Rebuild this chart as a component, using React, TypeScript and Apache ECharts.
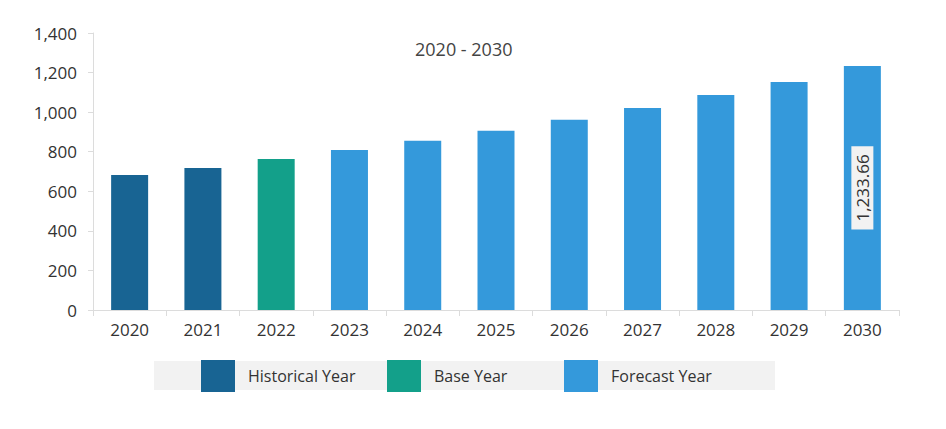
import React, { useEffect, useRef } from "react";
import * as echarts from "echarts";

const years = ["2020", "2021", "2022", "2023", "2024", "2025", "2026", "2027", "2028", "2029", "2030"];
const historical = [682, 718, null, null, null, null, null, null, null, null, null];
const base = [null, null, 763, null, null, null, null, null, null, null, null];
const forecast = [null, null, null, 809, 856, 906, 962, 1021, 1087, 1152, 1233.66];
const yTicks = [0, 200, 400, 600, 800, 1000, 1200, 1400];
const legendNames = ["Historical Year", "Base Year", "Forecast Year"];
const titleText = "2020 - 2030";

const COLORS = ["#186493", "#13a08a", "#3499db"];
const FONT = "'Open Sans', sans-serif";

export default function App() {
  const ref = useRef<HTMLDivElement>(null);
  useEffect(() => {
    document.body.style.margin = "0";
    if (!ref.current) return;
    const chart = echarts.init(ref.current, null, { renderer: "svg" });
    const fmt = (v: number) => v.toLocaleString("en-US");
    const lastIdx = forecast.length - 1;
    const forecastData = forecast.map((v, i) =>
      i === lastIdx
        ? {
            value: v,
            label: {
              show: true,
              position: "inside",
              rotate: 90,
              formatter: (p: any) => p.value.toLocaleString("en-US", { minimumFractionDigits: 2 }),
              color: "#333",
              fontSize: 17,
              fontFamily: FONT,
              backgroundColor: "#f2f2f2",
              padding: [3, 8, 2, 8],
            },
          }
        : v
    );
    const legendLefts = [201, 387, 564];
    chart.setOption({
      animation: false,
      textStyle: { fontFamily: FONT },
      title: {
        text: titleText,
        left: 410,
        top: 35,
        textStyle: { fontSize: 18, fontWeight: "normal", color: "#444", fontFamily: FONT },
      },
      graphic: [
        {
          type: "rect",
          z: 0,
          shape: { x: 154, y: 361, width: 621, height: 29 },
          style: { fill: "#f2f2f2" },
        },
      ],
      legend: legendNames.map((n, i) => ({
        data: [n],
        left: legendLefts[i],
        top: 360,
        itemWidth: 34,
        itemHeight: 32,
        icon: "rect",
        padding: 0,
        textStyle: { fontSize: 16, color: "#333", fontFamily: FONT, padding: [0, 0, 0, 8] },
        selectedMode: false,
      })),
      grid: { left: 93, right: 47, top: 33, bottom: 119, containLabel: false },
      xAxis: {
        type: "category",
        data: years,
        axisLine: { lineStyle: { color: "#dcdcdc" } },
        axisTick: { show: true, length: 6, lineStyle: { color: "#dcdcdc" } },
        axisLabel: { fontSize: 17, color: "#333", margin: 11, fontFamily: FONT },
      },
      yAxis: {
        type: "value",
        min: yTicks[0],
        max: yTicks[yTicks.length - 1],
        interval: 200,
        axisLine: { show: true, lineStyle: { color: "#dcdcdc" } },
        axisTick: { show: true, length: 5, lineStyle: { color: "#dcdcdc" } },
        splitLine: { show: false },
        axisLabel: { fontSize: 17, color: "#333", margin: 16, formatter: fmt, fontFamily: FONT },
      },
      series: [
        { name: legendNames[0], type: "bar", stack: "a", data: historical, barWidth: 37, itemStyle: { color: COLORS[0] } },
        { name: legendNames[1], type: "bar", stack: "a", data: base, barWidth: 37, itemStyle: { color: COLORS[1] } },
        { name: legendNames[2], type: "bar", stack: "a", data: forecastData, barWidth: 37, itemStyle: { color: COLORS[2] } },
      ],
    });
    return () => chart.dispose();
  }, []);
  return <div ref={ref} style={{ width: 946, height: 429 }} />;
}
